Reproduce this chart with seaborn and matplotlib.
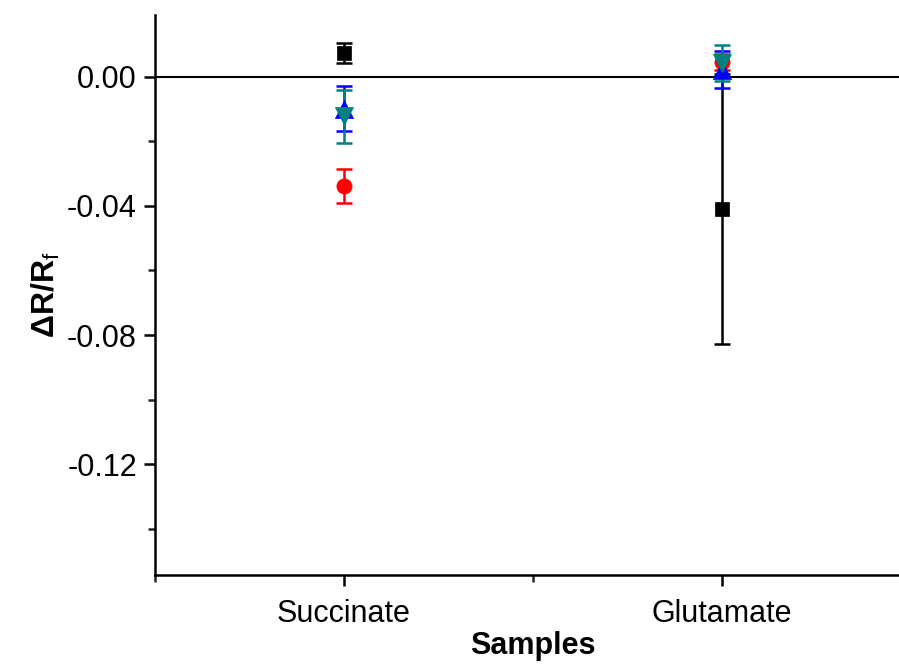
import numpy as np
import pandas as pd
import matplotlib
matplotlib.use("Agg")
import matplotlib.pyplot as plt
import seaborn as sns
from matplotlib.ticker import MultipleLocator

samples = ["Succinate", "Glutamate"]
series = ["s1", "s2", "s3", "s4"]
means = {
    "s1": [0.0074, -0.0409],
    "s2": [-0.0337, 0.0045],
    "s3": [-0.0098, 0.0023],
    "s4": [-0.0122, 0.0043],
}
errors = {
    "s1": [0.0032, 0.0419],
    "s2": [0.0053, 0.0025],
    "s3": [0.0070, 0.0057],
    "s4": [0.0082, 0.0056],
}
colors = {"s1": "black", "s2": "#ff0000", "s3": "#0000ff", "s4": "#008080"}
markers = {"s1": "s", "s2": "o", "s3": "^", "s4": "v"}
sizes = {"s1": 110, "s2": 120, "s3": 170, "s4": 170}

rows = []
for s in series:
    for i, name in enumerate(samples):
        rows.append({"sample": name, "series": s, "value": means[s][i], "err": errors[s][i]})
df = pd.DataFrame(rows)

sns.set_style("ticks")
plt.rcParams["font.family"] = ["Liberation Sans", "DejaVu Sans"]
plt.rcParams["text.color"] = "black"
plt.rcParams["axes.labelcolor"] = "black"
plt.rcParams["mathtext.fontset"] = "custom"
plt.rcParams["mathtext.bf"] = "Liberation Sans:bold"
plt.rcParams["mathtext.rm"] = "Liberation Sans"

fig = plt.figure(figsize=(8.99, 6.66), dpi=100)
ax = fig.add_axes([155 / 899, 1 - 575 / 666, 756 / 899, 560 / 666])

ax.axhline(0, color="black", lw=1.5, zorder=1)

for s in series:
    sub = df[df["series"] == s]
    xpos = [samples.index(n) for n in sub["sample"]]
    ax.errorbar(xpos, sub["value"], yerr=sub["err"], fmt="none",
                ecolor=colors[s], elinewidth=1.8, capsize=6, capthick=1.8, zorder=2)
    sns.scatterplot(x=xpos, y=sub["value"].values, ax=ax, color=colors[s],
                    marker=markers[s], s=sizes[s], edgecolor=colors[s], linewidth=0.5,
                    zorder=3, legend=False)

ax.set_xlim(-0.5, 1.5)
ax.set_ylim(-0.1544, 0.0192)
ax.set_xticks([0, 1])
ax.set_xticklabels(samples)
ax.xaxis.set_minor_locator(MultipleLocator(0.5))
ax.yaxis.set_major_locator(MultipleLocator(0.04))
ax.yaxis.set_minor_locator(MultipleLocator(0.02))
ax.yaxis.set_major_formatter(matplotlib.ticker.FormatStrFormatter("%.2f"))

sns.despine(ax=ax)
for sp in ["left", "bottom"]:
    ax.spines[sp].set_linewidth(1.8)
    ax.spines[sp].set_color("black")
ax.tick_params(which="major", direction="out", length=8, width=1.8, labelsize=22,
               colors="black", pad=5)
ax.tick_params(which="minor", direction="out", length=5, width=1.8)
ax.tick_params(axis="x", which="major", pad=9)

ax.set_xlabel("Samples", fontsize=22, fontweight="bold", labelpad=2, color="black")
ax.set_ylabel(r"$\mathbf{\Delta R/R}_{\mathrm{f}}$", fontsize=23, labelpad=4, color="black")
ax.grid(False)

fig.savefig("out.png", dpi=100)
